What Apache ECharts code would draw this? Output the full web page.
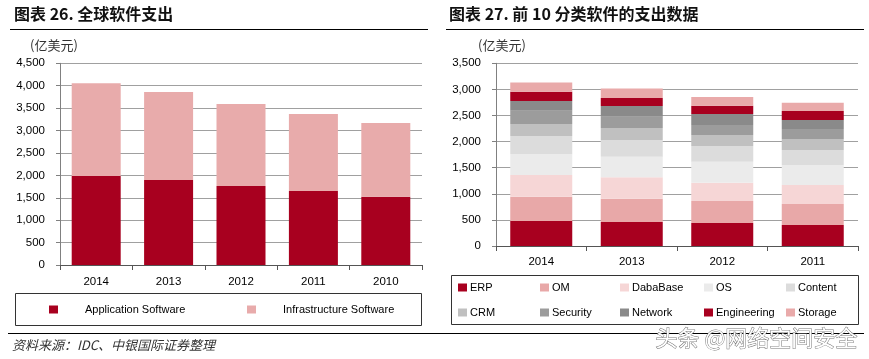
<!DOCTYPE html>
<html><head><meta charset="utf-8">
<script src="https://cdn.jsdelivr.net/npm/echarts@6/dist/echarts.min.js"></script>
<style>html,body{margin:0;padding:0;background:#fff}#c{width:869px;height:359px}</style>
</head><body><div id="c"></div>
<script>
// ---- Chart 26 data ----
var years1 = ['2014', '2013', '2012', '2011', '2010'];
var appSoftware = [1986, 1896, 1763, 1651, 1524];
var infraSoftware = [2068, 1964, 1829, 1718, 1644];

// ---- Chart 27 data ----
var years2 = ['2014', '2013', '2012', '2011'];
var erp = [479, 460, 441, 402];
var om = [466, 447, 421, 403];
var dabaBase = [415, 409, 352, 364];
var osData = [396, 396, 402, 383];
var content = [352, 319, 300, 287];
var crm = [230, 230, 211, 211];
var security = [255, 217, 191, 192];
var network = [185, 204, 211, 172];
var engineering = [179, 154, 160, 173];
var storage = [173, 179, 166, 159];

var names2 = ['ERP', 'OM', 'DabaBase', 'OS', 'Content', 'CRM', 'Security', 'Network', 'Engineering', 'Storage'];
var values2 = [erp, om, dabaBase, osData, content, crm, security, network, engineering, storage];
var colors2 = ['#A8001F', '#E8A8A8', '#F6D6D6', '#EBEBEB', '#DCDCDC', '#C0C0C0', '#9C9C9C', '#8A8A8A', '#A8001F', '#E9AAAA'];

var FONT = '"Liberation Sans", Arial, sans-serif';
var CJK = '"Noto Sans CJK SC", sans-serif';
var FS = 11.5;

function fmt(v) { return v.toString().replace(/\B(?=(\d{3})+(?!\d))/g, ','); }

var chart = echarts.init(document.getElementById('c'), null, {renderer: 'canvas'});

var axisY = function (gi, max) {
  return {
    type: 'value', gridIndex: gi, min: 0, max: max, interval: 500,
    axisLine: {show: true, lineStyle: {color: '#808080', width: 1}},
    axisTick: {show: true, length: 4, lineStyle: {color: '#808080'}},
    axisLabel: {margin: 15, color: '#000', fontFamily: FONT, fontSize: FS, formatter: fmt},
    splitLine: {show: true, lineStyle: {color: '#A0A0A0', width: 1}}
  };
};
var axisX = function (gi, data, margin) {
  return {
    type: 'category', gridIndex: gi, data: data,
    axisLine: {show: true, lineStyle: {color: '#555', width: 1}},
    axisTick: {show: true, length: 5, alignWithLabel: false, lineStyle: {color: '#555'}},
    axisLabel: {margin: margin, color: '#000', fontFamily: FONT, fontSize: FS},
    splitLine: {show: false}
  };
};

var series = [
  {name: 'Application Software', type: 'bar', stack: 'a', xAxisIndex: 0, yAxisIndex: 0, data: appSoftware, barWidth: 49, itemStyle: {color: '#A8001F'}},
  {name: 'Infrastructure Software', type: 'bar', stack: 'a', xAxisIndex: 0, yAxisIndex: 0, data: infraSoftware, barWidth: 49, itemStyle: {color: '#E8ABAB'}}
];
names2.forEach(function (n, i) {
  series.push({name: n, type: 'bar', stack: 'b', xAxisIndex: 1, yAxisIndex: 1, data: values2[i], barWidth: 62, itemStyle: {color: colors2[i]}});
});

var legends = [];
function addLegend(name, left, top, pad) {
  legends.push({
    data: [name], left: left, top: top, orient: 'horizontal', icon: 'rect',
    itemWidth: 9, itemHeight: 8, itemGap: 0, padding: 0, selectedMode: false,
    textStyle: {color: '#000', fontFamily: FONT, fontSize: 11, padding: [0, 0, 0, pad]}
  });
}
addLegend('Application Software', 49, 304, 22);
addLegend('Infrastructure Software', 247, 304, 22);
var cols = [458, 540, 620, 704, 786];
names2.forEach(function (n, i) {
  addLegend(n, cols[i % 5], i < 5 ? 282 : 307, -2);
});

var option = {
  animation: false,
  backgroundColor: '#fff',
  grid: [
    {left: 60, right: 869 - 422, top: 63.3, bottom: 359 - 265, containLabel: false},
    {left: 496, right: 869 - 858, top: 63.3, bottom: 359 - 246, containLabel: false}
  ],
  xAxis: [axisX(0, years1, 11), axisX(1, years2, 10)],
  yAxis: [axisY(0, 4500), axisY(1, 3500)],
  legend: legends,
  series: series,
  graphic: [
    {type: 'text', left: 14, top: 6, style: {text: '图表 26. 全球软件支出', font: 'bold 16px ' + CJK, fill: '#111'}},
    {type: 'text', left: 449, top: 6, style: {text: '图表 27. 前 10 分类软件的支出数据', font: 'bold 16px ' + CJK, fill: '#111'}},
    {type: 'line', shape: {x1: 10, y1: 29.5, x2: 428, y2: 29.5}, style: {stroke: '#000', lineWidth: 1}},
    {type: 'line', shape: {x1: 446, y1: 29.5, x2: 864, y2: 29.5}, style: {stroke: '#000', lineWidth: 1}},
    {type: 'text', left: 30, top: 39, style: {text: '(亿美元)', font: '13px ' + CJK, fill: '#333'}},
    {type: 'text', left: 478, top: 39, style: {text: '(亿美元)', font: '13px ' + CJK, fill: '#333'}},
    {type: 'rect', shape: {x: 15.5, y: 293.5, width: 406, height: 32}, style: {fill: 'none', stroke: '#333', lineWidth: 1}},
    {type: 'rect', shape: {x: 451.5, y: 275.5, width: 407, height: 49}, style: {fill: 'none', stroke: '#333', lineWidth: 1}},
    {type: 'line', shape: {x1: 8, y1: 333.5, x2: 864, y2: 333.5}, style: {stroke: '#000', lineWidth: 1}},
    {type: 'text', left: 12, top: 339, style: {text: '资料来源：IDC、中银国际证券整理', font: 'italic 13px ' + CJK, fill: '#333'}},
    {type: 'text', left: 655, top: 326, style: {text: '头条 @网络空间安全', font: '22px ' + CJK, fill: '#fff', stroke: '#777', lineWidth: 1}}
  ]
};
chart.setOption(option);
</script>
</body></html>
